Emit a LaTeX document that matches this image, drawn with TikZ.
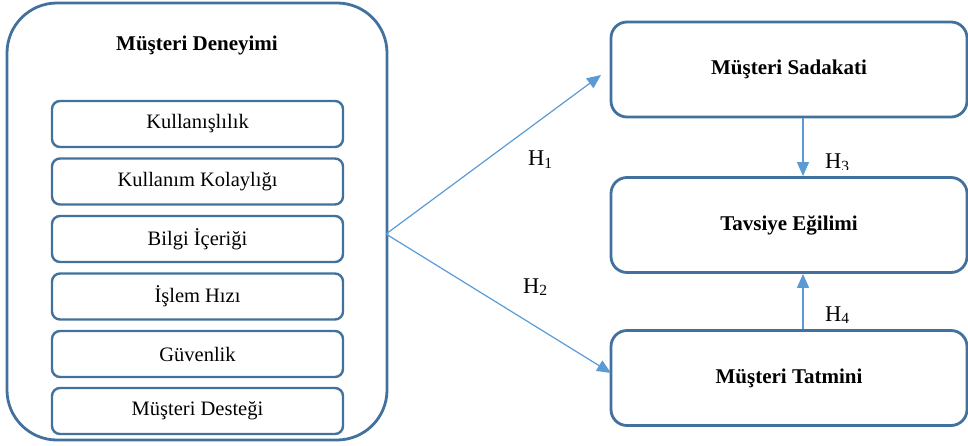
\documentclass[tikz,border=0pt]{standalone}
\usepackage{fontspec}
\setmainfont{Liberation Serif}
\usetikzlibrary{arrows.meta}
\definecolor{boxblue}{HTML}{41719C}
\definecolor{arrblue}{HTML}{5B9BD5}
\newcommand{\hyp}[1]{H\raisebox{-0.1em}{\fontsize{15.5}{15}\selectfont #1}}
\begin{document}
\begin{tikzpicture}[x=1pt,y=-1pt,
  outerbox/.style={draw=boxblue,line width=2.8pt,rounded corners=50pt},
  itembox/.style={draw=boxblue,line width=2.4pt,rounded corners=8pt,fill=white,
    minimum width=291pt,minimum height=46pt,inner sep=0pt,font=\fontsize{20.5}{23}\selectfont},
  rightbox/.style={draw=boxblue,line width=2.8pt,rounded corners=16pt,fill=white,
    minimum width=356pt,minimum height=95pt,inner sep=0pt,font=\bfseries\fontsize{21}{24}\selectfont},
  conn/.style={draw=arrblue,line width=1.2pt,-{Triangle[length=14pt,width=12pt]}},
  hlab/.style={font=\fontsize{22.5}{25}\selectfont,inner sep=0pt,anchor=base west}]
\useasboundingbox (0,0) rectangle (968,446);
\node[outerbox,minimum width=380pt,minimum height=437pt,inner sep=0pt] (outer) at (197,221.5) {};
\node[font=\bfseries\fontsize{21}{24}\selectfont] (title) at (197,45) {Müşteri Deneyimi};
\node[itembox] (i1) at (197.5,124) {Kullanışlılık};
\node[itembox] (i2) at (197.5,181.5) {Kullanım Kolaylığı};
\node[itembox] (i3) at (197.5,239) {Bilgi İçeriği};
\node[itembox] (i4) at (197.5,296.5) {İşlem Hızı};
\node[itembox] (i5) at (197.5,354) {Güvenlik};
\node[itembox] (i6) at (197.5,411) {Müşteri Desteği};
\begin{scope}
\clip (815,140) rectangle (880,169.5);
\node[hlab] (h3) at (825,169) {\hyp{3}};
\end{scope}
\node[hlab] (h4) at (825,321) {\hyp{4}};
\node[rightbox] (r1) at (789,69.5) {Müşteri Sadakati};
\node[rightbox] (r2) at (789,225) {Tavsiye Eğilimi};
\node[rightbox] (r3) at (789,378) {Müşteri Tatmini};
\coordinate (src) at (386,234);
\coordinate (t1) at (601,75);
\coordinate (t2) at (611,373);
\draw[conn] (src) -- (t1);
\draw[conn] (src) -- (t2);
\draw[conn] (r1.south -| 803,0) -- (r2.north -| 803,0);
\draw[conn] (r3.north -| 803,0) -- (r2.south -| 803,0);
\node[hlab] (h1) at (528,166) {\hyp{1}};
\node[hlab] (h2) at (523,293) {\hyp{2}};
\end{tikzpicture}
\end{document}
